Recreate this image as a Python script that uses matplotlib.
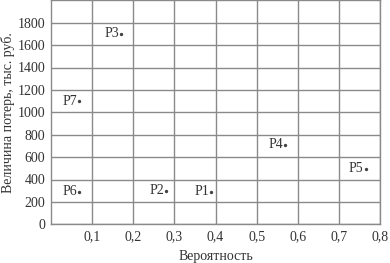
import matplotlib
matplotlib.use("Agg")
import matplotlib.pyplot as plt

labels = ["P1", "P2", "P3", "P4", "P5", "P6", "P7"]
prob = [0.39, 0.28, 0.17, 0.57, 0.765, 0.068, 0.068]
loss = [290, 300, 1700, 710, 495, 290, 1100]

xticks = [0.1, 0.2, 0.3, 0.4, 0.5, 0.6, 0.7, 0.8]
xticklabels = ["0,1", "0,2", "0,3", "0,4", "0,5", "0,6", "0,7", "0,8"]
yticks = [0, 200, 400, 600, 800, 1000, 1200, 1400, 1600, 1800]

plt.rcParams['font.family'] = ['Liberation Serif', 'DejaVu Serif']
fig = plt.figure(figsize=(3.9, 2.63), dpi=100)
ax = fig.add_axes([51/390, (263-224.3)/263, (380-51)/390, 224/263])
ax.set_xlim(0, 0.8)
ax.set_ylim(0, 2000)
ax.set_xticks(xticks)
ax.set_xticklabels(xticklabels)
ax.set_yticks(yticks)
ax.grid(True, color='#8a8a8a', linewidth=1.0)
ax.set_axisbelow(True)
for s in ax.spines.values():
    s.set_color('#8a8a8a')
    s.set_linewidth(1.0)
ax.tick_params(length=0, labelsize=10, colors='#333333', pad=4)
ax.set_xlabel("Вероятность", fontsize=10, color='#333333', labelpad=5)
ax.set_ylabel("Величина потерь, тыс. руб.", fontsize=10, color='#333333', labelpad=2)

ax.scatter(prob, loss, s=2, color='#444444', zorder=3)
for lab, x, y in zip(labels, prob, loss):
    ax.annotate(lab, (x, y), xytext=(-1.5, 0), textcoords='offset points',
                ha='right', va='center', fontsize=10, color='#333333')

fig.savefig("out.png", dpi=100)
